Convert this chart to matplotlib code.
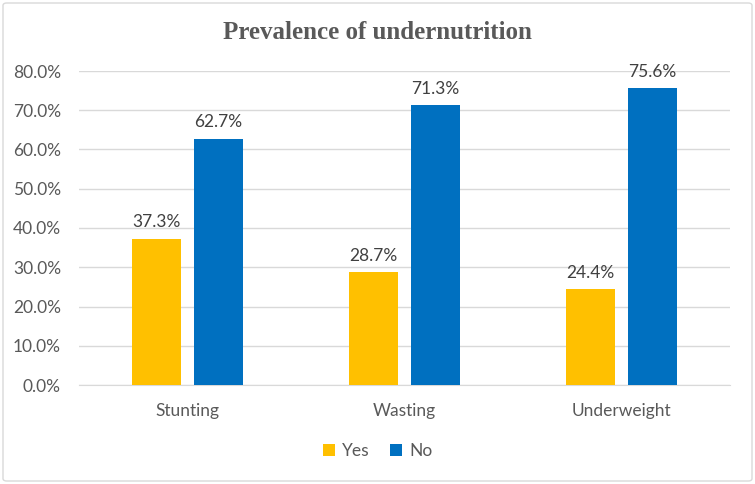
import matplotlib
matplotlib.use("Agg")
import matplotlib.pyplot as plt
from matplotlib.patches import FancyBboxPatch
import numpy as np

categories = ["Stunting", "Wasting", "Underweight"]
yes_vals = [37.3, 28.7, 24.4]
no_vals = [62.7, 71.3, 75.6]
series_names = ["Yes", "No"]
colors = ["#FFC000", "#0070C0"]

plt.rcParams['font.family'] = ['Lato', 'DejaVu Sans']

fig = plt.figure(figsize=(7.55, 4.84), dpi=100)
W, H = 755, 484
ax = fig.add_axes([79 / W, 1 - 385 / H, (730 - 79) / W, (385 - 71) / H])

x = np.arange(len(categories))
bw = 0.226
off = 0.143
for vals, name, c, o in [(yes_vals, series_names[0], colors[0], -off), (no_vals, series_names[1], colors[1], off)]:
    bars = ax.bar(x + o, vals, width=bw, color=c, label=name, zorder=3)
    for b, v in zip(bars, vals):
        ax.text(b.get_x() + b.get_width() / 2, v + 2.2, f"{v:.1f}%", ha="center", va="bottom",
                fontsize=12.5, color="#404040")

ax.set_xlim(-0.5, 2.5)
ax.set_ylim(0, 80)
ax.set_yticks(np.arange(0, 81, 10))
ax.set_yticklabels([f"{t:.1f}%" for t in np.arange(0, 81, 10)])
ax.set_xticks(x)
ax.set_xticklabels(categories)
ax.grid(axis="y", color="#D9D9D9", linewidth=1, zorder=0)
for s in ["top", "right", "left"]:
    ax.spines[s].set_visible(False)
ax.spines["bottom"].set_color("#D9D9D9")
ax.tick_params(axis="both", length=0, labelsize=12.5, colors="#595959")
ax.tick_params(axis="x", pad=13)
ax.tick_params(axis="y", pad=13)

fig.text(0.5, 1 - 33 / H, "Prevalence of undernutrition", ha="center", va="center",
         fontsize=18, fontweight="bold", color="#595959", family="Liberation Serif")

leg = fig.legend(loc="center", bbox_to_anchor=(0.5, 1 - 451 / H), ncol=2, frameon=False,
                 fontsize=12.5, handlelength=0.7, handleheight=0.7, handletextpad=0.4,
                 columnspacing=1.2)
for t in leg.get_texts():
    t.set_color("#595959")

border = FancyBboxPatch((3 / W, 3 / H), 1 - 6 / W, 1 - 6 / H, boxstyle="round,pad=0,rounding_size=0.005",
                        transform=fig.transFigure, fill=False, edgecolor="#D9D9D9", linewidth=1)
fig.patches.append(border)

fig.savefig("out.png", dpi=100)
